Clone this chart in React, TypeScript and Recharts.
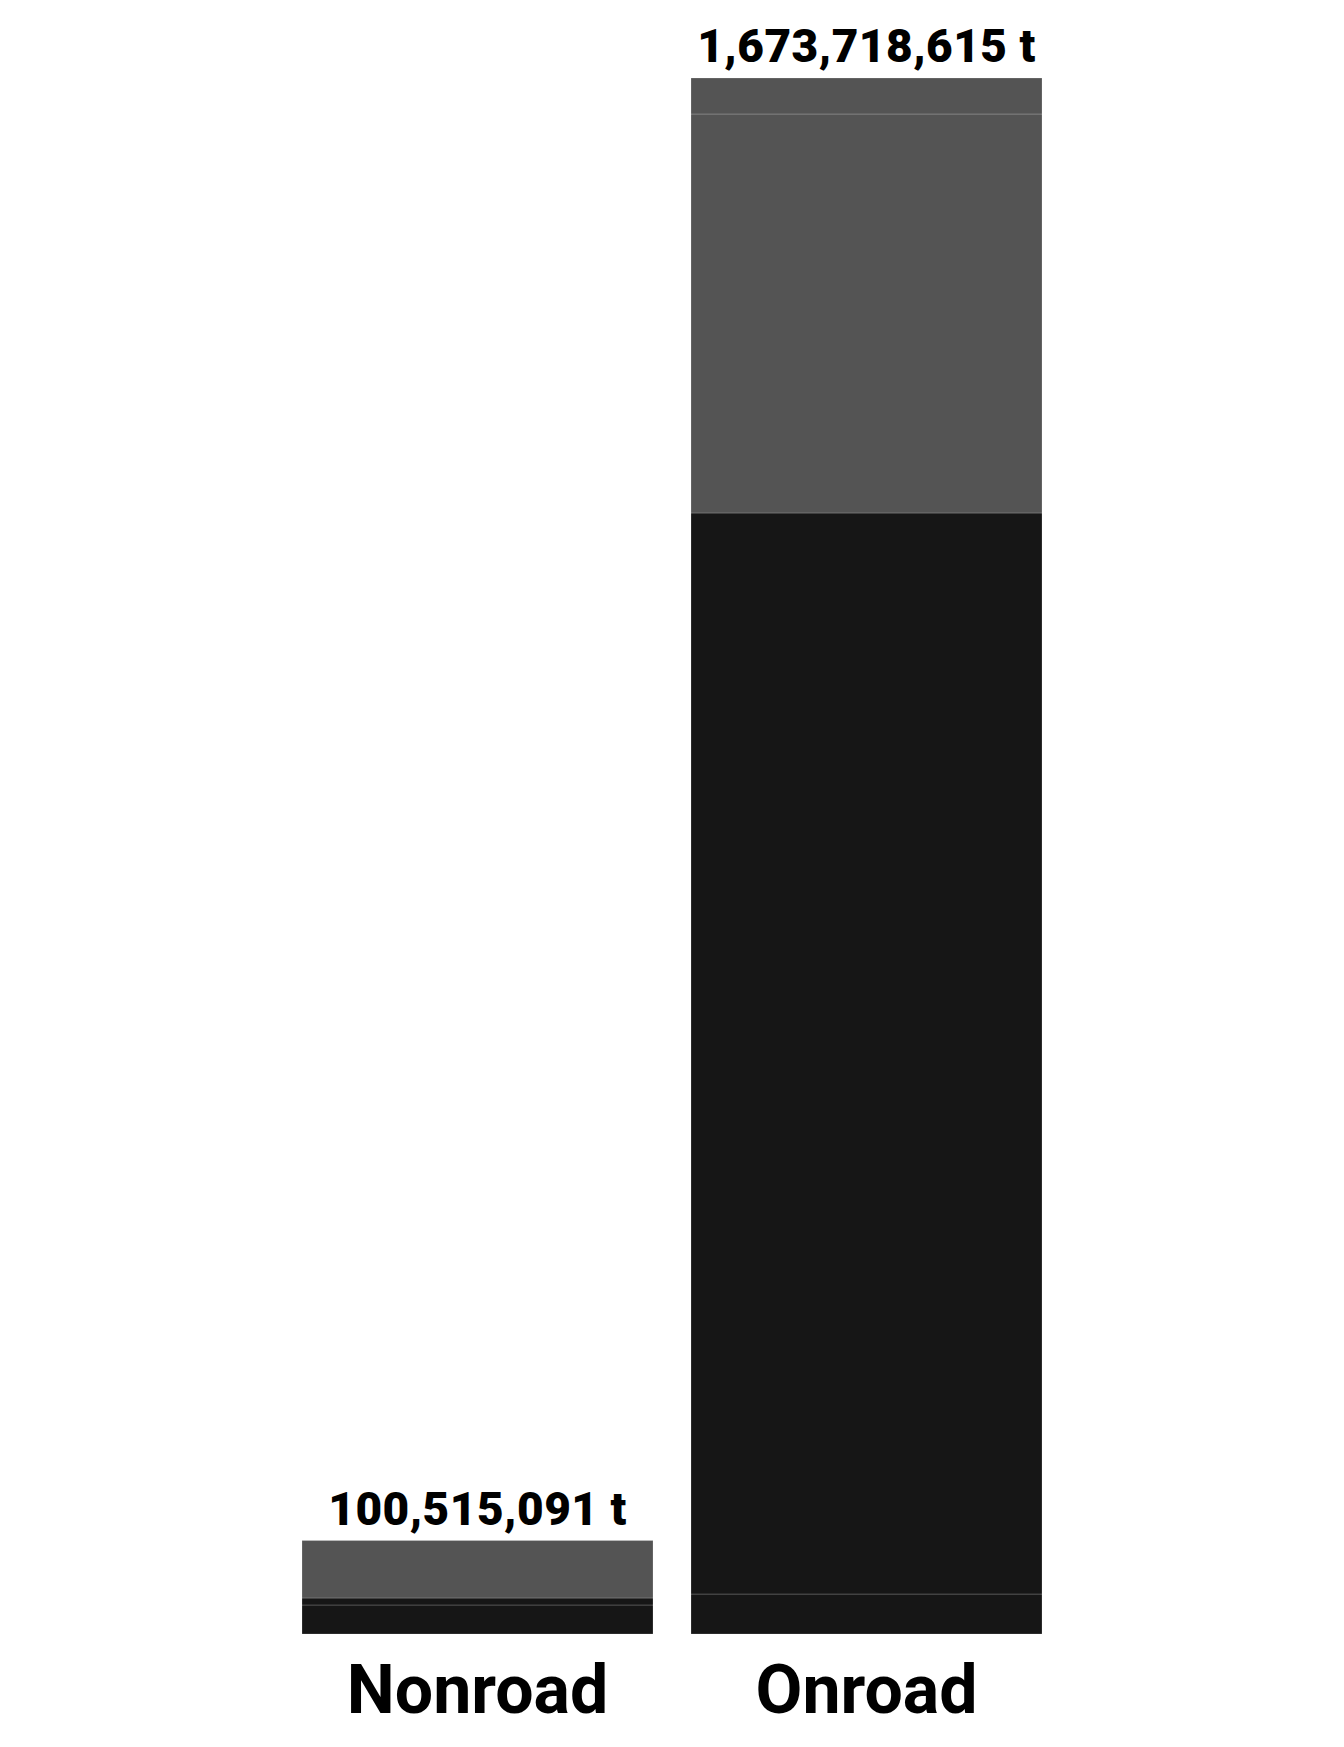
import React from "react";
import { BarChart, Bar, XAxis, YAxis, LabelList } from "recharts";

// stacked segments, bottom to top (tonnes)
const categories = ["Nonroad", "Onroad"];
const segA = [31200000, 43000000];
const segB = [7500000, 1162800000];
const segC = [0, 429200000];
const segD = [61815091, 38718615];
const totals = [100515091, 1673718615];

const series = [
  { key: "segA", color: "#161616" },
  { key: "segB", color: "#161616" },
  { key: "segC", color: "#545454" },
  { key: "segD", color: "#545454" },
];

const chartData = categories.map((name, i) => ({
  name,
  segA: segA[i],
  segB: segB[i],
  segC: segC[i],
  segD: segD[i],
  total: totals[i],
}));

const FONT = "Roboto, 'Noto Sans', sans-serif";

const CategoryTick = (props: any) => {
  const { x, y, payload } = props;
  return (
    <text
      x={x}
      y={y + 71}
      textAnchor="middle"
      fontFamily={FONT}
      fontWeight={700}
      fontSize={68}
      fill="#000"
    >
      {payload.value}
    </text>
  );
};

const TotalLabel = (props: any) => {
  const { x, y, width, index } = props;
  return (
    <text
      x={x + width / 2}
      y={y - 16}
      textAnchor="middle"
      fontFamily={FONT}
      fontWeight={900}
      fontSize={46}
      letterSpacing={0.5}
      fill="#000"
    >
      {totals[index].toLocaleString("en-US") + " t"}
    </text>
  );
};

const App: React.FC = () => {
  return (
    <div style={{ width: 1328, height: 1731, background: "#fff" }}>
      <BarChart
        width={1328}
        height={1731}
        data={chartData}
        margin={{ top: 70, right: 275, left: 275, bottom: 15 }}
        barCategoryGap={19}
      >
        <XAxis
          dataKey="name"
          axisLine={false}
          tickLine={false}
          height={90}
          tick={<CategoryTick />}
          interval={0}
        />
        <YAxis hide domain={[0, totals[1]]} />
        {series.map((s, i) => (
          <Bar
            key={s.key}
            dataKey={s.key}
            stackId="a"
            fill={s.color}
            stroke="#ffffff"
            strokeOpacity={0.2}
            strokeWidth={1}
            isAnimationActive={false}
          >
            {i === series.length - 1 && <LabelList dataKey="total" content={<TotalLabel />} />}
          </Bar>
        ))}
      </BarChart>
    </div>
  );
};

export default App;
